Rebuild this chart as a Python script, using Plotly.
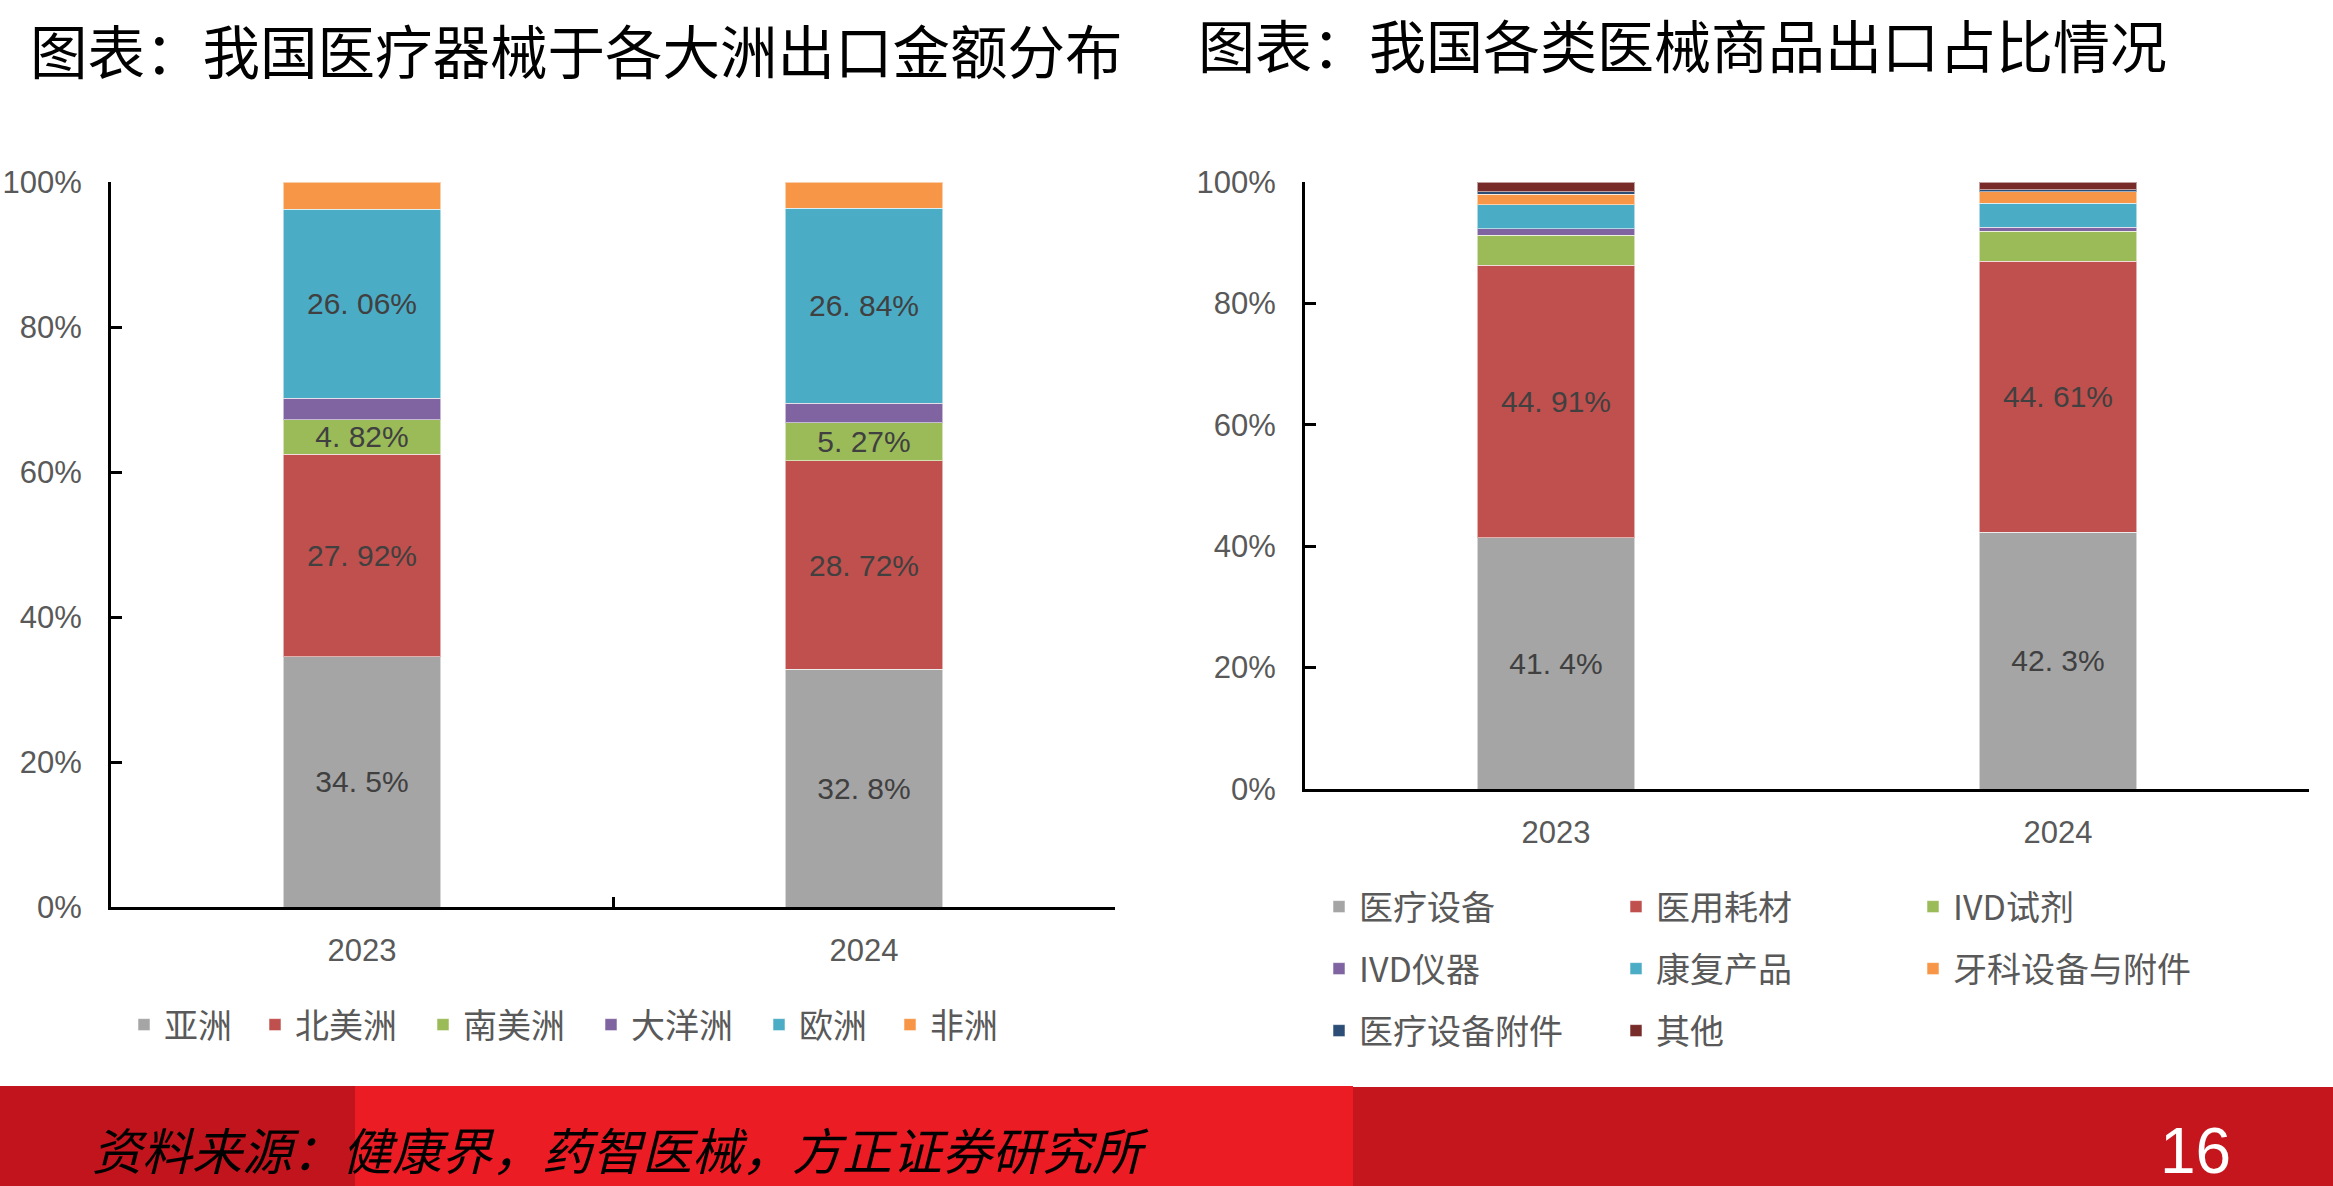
import plotly.graph_objects as go

W, H = 2333, 1186

# ---------------- data ----------------
years = ["2023", "2024"]

# left chart: export share by continent (%)
continents = ["亚洲", "北美洲", "南美洲", "大洋洲", "欧洲", "非洲"]
asia = [34.5, 32.8]
north_america = [27.92, 28.72]
south_america = [4.82, 5.27]
oceania = [2.96, 2.72]
europe = [26.06, 26.84]
africa = [3.74, 3.65]
continent_labeled = [True, True, True, False, True, False]

# right chart: export share by product category (%)
categories = ["医疗设备", "医用耗材", "IVD试剂", "IVD仪器", "康复产品",
              "牙科设备与附件", "医疗设备附件", "其他"]
med_equipment = [41.4, 42.3]
consumables = [44.91, 44.61]
ivd_reagent = [4.93, 4.97]
ivd_instrument = [1.05, 0.68]
rehab = [3.95, 3.92]
dental = [1.72, 1.95]
equipment_parts = [0.40, 0.28]
others = [1.64, 1.29]
category_labeled = [True, True, False, False, False, False, False, False]

yticks = [0, 20, 40, 60, 80, 100]
ytick_text = [f"{v}%" for v in yticks]

title_left = "图表：我国医疗器械于各大洲出口金额分布"
title_right = "图表：我国各类医械商品出口占比情况"
source_text = "资料来源：健康界，药智医械，方正证券研究所"
page_no = "16"

# ---------------- styling ----------------
cont_colors = ["#A5A5A5", "#C0504D", "#9BBB59", "#8064A2", "#4BACC6", "#F79646"]
cat_colors = ["#A5A5A5", "#C0504D", "#9BBB59", "#8064A2", "#4BACC6", "#F79646",
              "#2C4D75", "#772C2A"]

CJK = "Noto Sans CJK SC"
NUM = "Liberation Sans"
LABEL_COLOR = "#404040"
TICK_COLOR = "#595959"


def fx(px):
    return px / W


def fy(py):
    return 1 - py / H


def fmt(v):
    return (str(v) + "%").replace(".", ". ")


fig = go.Figure()

cont_series = [asia, north_america, south_america, oceania, europe, africa]
for name, vals, col, lab in zip(continents, cont_series, cont_colors, continent_labeled):
    fig.add_trace(go.Bar(
        x=years, y=vals, name=name, xaxis="x", yaxis="y",
        marker=dict(color=col, line=dict(color="rgba(255,255,255,0.55)", width=1)),
        text=[fmt(v) for v in vals] if lab else None,
        textposition="inside" if lab else "none",
        insidetextanchor="middle", textangle=0,
        textfont=dict(family=NUM, size=30, color=LABEL_COLOR),
        legend="legend",
        legendwidth=12 + 37 * len(name),
        hoverinfo="skip",
    ))

cat_series = [med_equipment, consumables, ivd_reagent, ivd_instrument, rehab,
              dental, equipment_parts, others]
row_legends = ["legend2", "legend2", "legend2", "legend3", "legend3", "legend3",
               "legend4", "legend4"]
for name, vals, col, lab, lg in zip(categories, cat_series, cat_colors,
                                    category_labeled, row_legends):
    fig.add_trace(go.Bar(
        x=years, y=vals, name=name, xaxis="x2", yaxis="y2",
        marker=dict(color=col, line=dict(color="rgba(255,255,255,0.55)", width=1)),
        text=[fmt(v) for v in vals] if lab else None,
        textposition="inside" if lab else "none",
        insidetextanchor="middle", textangle=0,
        textfont=dict(family=NUM, size=30, color=LABEL_COLOR),
        legend=lg,
        hoverinfo="skip",
    ))

yaxis_common = dict(
    range=[0, 100], tickmode="array", tickvals=yticks, ticktext=ytick_text,
    showgrid=False, zeroline=False, automargin=False,
    showline=True, linecolor="black", linewidth=3,
    ticks="inside", ticklen=11, tickwidth=2.5, tickcolor="black",
    tickfont=dict(family=NUM, size=31, color=TICK_COLOR),
    ticklabelstandoff=20,
)
xaxis_common = dict(
    type="category", showgrid=False, zeroline=False, automargin=False,
    showline=True, linecolor="black", linewidth=3,
    tickfont=dict(family=NUM, size=31, color=TICK_COLOR),
    ticklabelstandoff=14,
)

legend_font = dict(family=CJK, size=34, color=TICK_COLOR)

fig.update_layout(
    width=W, height=H,
    margin=dict(l=0, r=0, t=0, b=0, autoexpand=False),
    paper_bgcolor="white", plot_bgcolor="white",
    barmode="stack", bargap=0.687,
    uniformtext=dict(minsize=30, mode="show"),
    xaxis=dict(domain=[fx(111), fx(1115)], anchor="y",
               ticks="inside", tickson="boundaries", ticklen=10,
               tickwidth=2.5, tickcolor="black", **xaxis_common),
    yaxis=dict(domain=[fy(907), fy(182)], anchor="x", **yaxis_common),
    xaxis2=dict(domain=[fx(1305), fx(2309)], anchor="y2", ticks="", **xaxis_common),
    yaxis2=dict(domain=[fy(789), fy(182)], anchor="x2", **yaxis_common),
    legend=dict(orientation="h", x=fx(124), xanchor="left", y=fy(1025),
                yanchor="middle", font=legend_font, bgcolor="rgba(0,0,0,0)",
                traceorder="normal"),
    legend2=dict(orientation="h", x=fx(1319), xanchor="left", y=fy(907),
                 yanchor="middle", font=legend_font, bgcolor="rgba(0,0,0,0)",
                 entrywidth=252, entrywidthmode="pixels", traceorder="normal"),
    legend3=dict(orientation="h", x=fx(1319), xanchor="left", y=fy(969),
                 yanchor="middle", font=legend_font, bgcolor="rgba(0,0,0,0)",
                 entrywidth=252, entrywidthmode="pixels", traceorder="normal"),
    legend4=dict(orientation="h", x=fx(1319), xanchor="left", y=fy(1031),
                 yanchor="middle", font=legend_font, bgcolor="rgba(0,0,0,0)",
                 entrywidth=252, entrywidthmode="pixels", traceorder="normal"),
)

# footer bands
fig.add_shape(type="rect", xref="paper", yref="paper", x0=fx(0), x1=fx(355),
              y0=fy(1186), y1=fy(1086), fillcolor="#C1141C", line=dict(width=0),
              layer="below")
fig.add_shape(type="rect", xref="paper", yref="paper", x0=fx(355), x1=fx(1353),
              y0=fy(1186), y1=fy(1086), fillcolor="#EC1C24", line=dict(width=0),
              layer="below")
fig.add_shape(type="rect", xref="paper", yref="paper", x0=fx(1353), x1=fx(2333),
              y0=fy(1186), y1=fy(1087), fillcolor="#C4161C", line=dict(width=0),
              layer="below")

# titles (anchored at top so they are not clipped by the page edge)
fig.add_annotation(text=title_left, xref="paper", yref="paper", x=fx(28), y=fy(5),
                   xanchor="left", yanchor="top", showarrow=False,
                   font=dict(family=CJK, size=57.5, color="black"))
fig.add_annotation(text=title_right, xref="paper", yref="paper", x=fx(1196), y=fy(0),
                   xanchor="left", yanchor="top", showarrow=False,
                   font=dict(family=CJK, size=57, color="black"))
# footer texts
fig.add_annotation(text=source_text, xref="paper", yref="paper", x=fx(90), y=fy(1148),
                   xanchor="left", yanchor="middle", showarrow=False,
                   font=dict(family=CJK, size=50, color="black", style="italic"))
fig.add_annotation(text=page_no, xref="paper", yref="paper", x=fx(2195), y=fy(1151),
                   xanchor="center", yanchor="middle", showarrow=False,
                   font=dict(family="Liberation Sans Narrow, Liberation Sans", size=64,
                             color="white"))

fig.write_html("out.html")
